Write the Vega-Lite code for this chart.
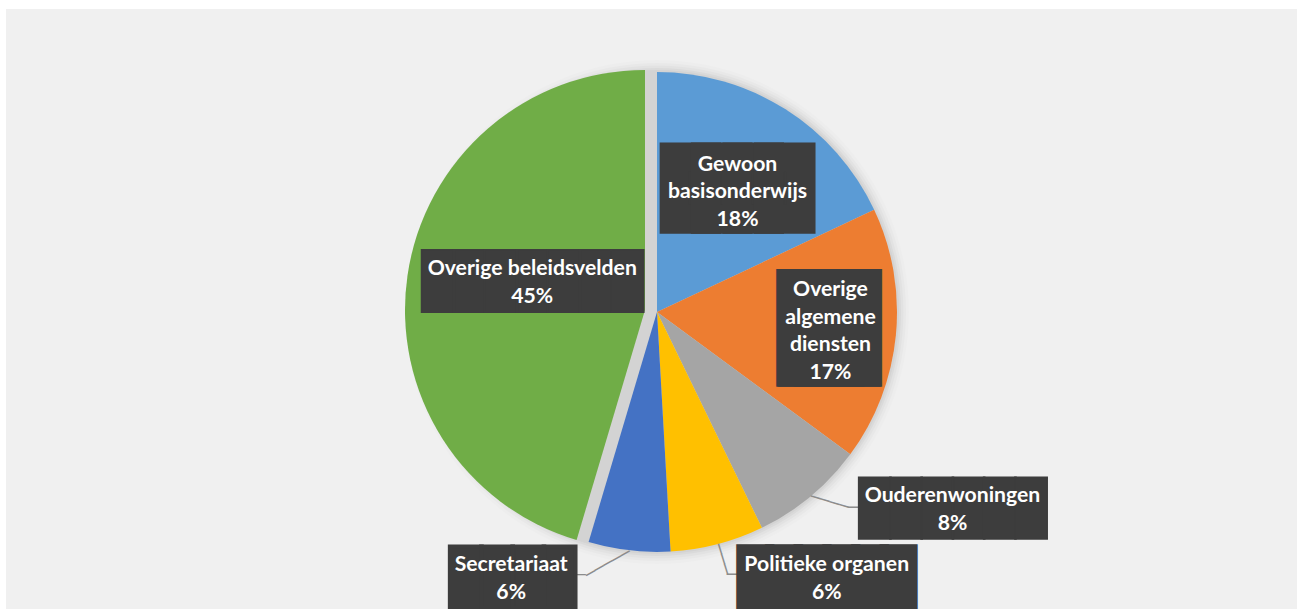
{
  "$schema": "https://vega.github.io/schema/vega-lite/v6.json",
  "width": 1291,
  "height": 600,
  "autosize": "none",
  "padding": {"left": 6, "top": 9, "right": 0, "bottom": 0},
  "background": "#ffffff",
  "view": {"fill": "#f0f0f0", "stroke": null},
  "data": {
    "values": [
      {"cat": "Gewoon basisonderwijs", "value": 18.0, "order": 1, "label": "Gewoon\nbasisonderwijs\n18%"},
      {"cat": "Overige algemene diensten", "value": 17.1, "order": 2, "label": "Overige\nalgemene\ndiensten\n17%"},
      {"cat": "Ouderenwoningen", "value": 7.7, "order": 3, "label": "Ouderenwoningen\n8%"},
      {"cat": "Politieke organen", "value": 6.3, "order": 4, "label": "Politieke organen\n6%"},
      {"cat": "Secretariaat", "value": 5.5, "order": 5, "label": "Secretariaat\n6%"},
      {"cat": "Overige beleidsvelden", "value": 45.4, "order": 6, "label": "Overige beleidsvelden\n45%"}
    ]
  },
  "layer": [
    {
      "transform": [{"aggregate": [{"op": "sum", "field": "value", "as": "total"}]}],
      "mark": {"type": "arc", "radius": 252, "fill": "#000000", "fillOpacity": 0.012, "x": {"expr": "width/2 + 5.5"}, "y": {"expr": "height/2 + 3"}},
      "encoding": {"theta": {"field": "total", "type": "quantitative", "stack": true}}
    },
    {
      "transform": [{"aggregate": [{"op": "sum", "field": "value", "as": "total"}]}],
      "mark": {"type": "arc", "radius": 249, "fill": "#000000", "fillOpacity": 0.018, "x": {"expr": "width/2 + 5.5"}, "y": {"expr": "height/2 + 3"}},
      "encoding": {"theta": {"field": "total", "type": "quantitative", "stack": true}}
    },
    {
      "transform": [{"aggregate": [{"op": "sum", "field": "value", "as": "total"}]}],
      "mark": {"type": "arc", "radius": 246.5, "fill": "#000000", "fillOpacity": 0.024, "x": {"expr": "width/2 + 5.5"}, "y": {"expr": "height/2 + 3"}},
      "encoding": {"theta": {"field": "total", "type": "quantitative", "stack": true}}
    },
    {
      "transform": [{"aggregate": [{"op": "sum", "field": "value", "as": "total"}]}],
      "mark": {"type": "arc", "radius": 244, "fill": "#000000", "fillOpacity": 0.03, "x": {"expr": "width/2 + 5.5"}, "y": {"expr": "height/2 + 3"}},
      "encoding": {"theta": {"field": "total", "type": "quantitative", "stack": true}}
    },
    {
      "transform": [{"aggregate": [{"op": "sum", "field": "value", "as": "total"}]}],
      "mark": {"type": "arc", "radius": 242, "fill": "#000000", "fillOpacity": 0.03, "x": {"expr": "width/2 + 5.5"}, "y": {"expr": "height/2 + 3"}},
      "encoding": {"theta": {"field": "total", "type": "quantitative", "stack": true}}
    },
    {
      "mark": {"type": "arc", "radius": 240, "x": {"expr": "width/2 + 5.5"}, "y": {"expr": "height/2 + 3"}},
      "encoding": {
        "theta": {"field": "value", "type": "quantitative", "stack": true},
        "order": {"field": "order", "type": "quantitative"},
        "color": {"field": "cat", "type": "nominal", "legend": null,
          "scale": {"domain": ["Gewoon basisonderwijs", "Overige algemene diensten", "Ouderenwoningen", "Politieke organen", "Secretariaat", "Overige beleidsvelden"],
                    "range": ["#5b9bd5", "#ed7d31", "#a5a5a5", "#ffc000", "#4472c4", "#70ad47"]}},
        "opacity": {"condition": {"test": "datum.cat === 'Overige beleidsvelden'", "value": 0}, "value": 1}
      }
    },
    {
      "mark": {"type": "arc", "radius": 240, "x": {"expr": "width/2 + 5.5 - 12"}, "y": {"expr": "height/2 + 3 - 2"}},
      "encoding": {
        "theta": {"field": "value", "type": "quantitative", "stack": true},
        "order": {"field": "order", "type": "quantitative"},
        "color": {"field": "cat", "type": "nominal", "legend": null},
        "opacity": {"condition": {"test": "datum.cat === 'Overige beleidsvelden'", "value": 1}, "value": 0}
      }
    },
    {
      "mark": {"type": "text", "font": "DejaVu Sans Mono", "fontSize": 16.35, "fill": "#8c8c8c", "align": "left", "baseline": "middle", "angle": 16.7, "radius": 240, "x": {"expr": "width/2 + 5.5"}, "y": {"expr": "height/2 + 3"}},
      "encoding": {
        "theta": {"field": "value", "type": "quantitative", "stack": true},
        "order": {"field": "order", "type": "quantitative"},
        "text": {"condition": {"test": "datum.cat === 'Ouderenwoningen'", "value": "────"}, "value": ""}
      }
    },
    {
      "mark": {"type": "text", "font": "DejaVu Sans Mono", "fontSize": 17.4, "fill": "#8c8c8c", "align": "left", "baseline": "middle", "angle": 72.8, "radius": 240, "x": {"expr": "width/2 + 5.5"}, "y": {"expr": "height/2 + 3"}},
      "encoding": {
        "theta": {"field": "value", "type": "quantitative", "stack": true},
        "order": {"field": "order", "type": "quantitative"},
        "text": {"condition": {"test": "datum.cat === 'Politieke organen'", "value": "───"}, "value": ""}
      }
    },
    {
      "mark": {"type": "text", "font": "DejaVu Sans Mono", "fontSize": 16.6, "fill": "#8c8c8c", "align": "left", "baseline": "middle", "angle": 150.5, "radius": 240, "x": {"expr": "width/2 + 5.5"}, "y": {"expr": "height/2 + 3"}},
      "encoding": {
        "theta": {"field": "value", "type": "quantitative", "stack": true},
        "order": {"field": "order", "type": "quantitative"},
        "text": {"condition": {"test": "datum.cat === 'Secretariaat'", "value": "─────"}, "value": ""}
      }
    },
    {
      "mark": {"type": "text", "font": "DejaVu Sans Mono", "fontSize": 16.6, "fill": "#8c8c8c", "align": "left", "baseline": "middle", "radius": 240, "dx": 37.7, "dy": 12.0, "x": {"expr": "width/2 + 5.5"}, "y": {"expr": "height/2 + 3"}},
      "encoding": {
        "theta": {"field": "value", "type": "quantitative", "stack": true},
        "order": {"field": "order", "type": "quantitative"},
        "text": {"condition": {"test": "datum.cat === 'Ouderenwoningen'", "value": "─"}, "value": ""}
      }
    },
    {
      "mark": {"type": "text", "font": "DejaVu Sans Mono", "fontSize": 16.6, "fill": "#8c8c8c", "align": "left", "baseline": "middle", "radius": 240, "dx": 9.3, "dy": 30.7, "x": {"expr": "width/2 + 5.5"}, "y": {"expr": "height/2 + 3"}},
      "encoding": {
        "theta": {"field": "value", "type": "quantitative", "stack": true},
        "order": {"field": "order", "type": "quantitative"},
        "text": {"condition": {"test": "datum.cat === 'Politieke organen'", "value": "─"}, "value": ""}
      }
    },
    {
      "mark": {"type": "text", "font": "DejaVu Sans Mono", "fontSize": 15, "fill": "#8c8c8c", "align": "left", "baseline": "middle", "radius": 240, "dx": -52.5, "dy": 24.8, "x": {"expr": "width/2 + 5.5"}, "y": {"expr": "height/2 + 3"}},
      "encoding": {
        "theta": {"field": "value", "type": "quantitative", "stack": true},
        "order": {"field": "order", "type": "quantitative"},
        "text": {"condition": {"test": "datum.cat === 'Secretariaat'", "value": "─"}, "value": ""}
      }
    },
    {
      "mark": {"type": "text", "font": "DejaVu Sans Mono", "fontSize": 52.2, "fill": "#3d3d3d", "stroke": "#3d3d3d", "strokeWidth": 29.2, "strokeJoin": "miter", "align": "center", "baseline": "middle", "radius": 146, "dx": 2.3, "dy": 1.7, "x": {"expr": "width/2 + 5.5"}, "y": {"expr": "height/2 + 3"}},
      "encoding": {
        "theta": {"field": "value", "type": "quantitative", "stack": true},
        "order": {"field": "order", "type": "quantitative"},
        "text": {"condition": {"test": "datum.cat === 'Gewoon basisonderwijs'", "value": "████"}, "value": ""}
      }
    },
    {
      "mark": {"type": "text", "font": "DejaVu Sans Mono", "fontSize": 26.6, "fill": "#3d3d3d", "stroke": "#3d3d3d", "strokeWidth": 86, "strokeJoin": "miter", "align": "center", "baseline": "middle", "radius": 172, "dx": 0.8, "dy": -0.2, "x": {"expr": "width/2 + 5.5"}, "y": {"expr": "height/2 + 3"}},
      "encoding": {
        "theta": {"field": "value", "type": "quantitative", "stack": true},
        "order": {"field": "order", "type": "quantitative"},
        "text": {"condition": {"test": "datum.cat === 'Overige algemene diensten'", "value": "▕█▏"}, "value": ""}
      }
    },
    {
      "mark": {"type": "text", "font": "DejaVu Sans Mono", "fontSize": 51.9, "fill": "#3d3d3d", "stroke": "#3d3d3d", "strokeWidth": 1.6, "strokeJoin": "miter", "align": "center", "baseline": "middle", "radius": 240, "dx": 142.2, "dy": 13.9, "x": {"expr": "width/2 + 5.5"}, "y": {"expr": "height/2 + 3"}},
      "encoding": {
        "theta": {"field": "value", "type": "quantitative", "stack": true},
        "order": {"field": "order", "type": "quantitative"},
        "text": {"condition": {"test": "datum.cat === 'Ouderenwoningen'", "value": "██████"}, "value": ""}
      }
    },
    {
      "mark": {"type": "text", "font": "DejaVu Sans Mono", "fontSize": 47.6, "fill": "#3d3d3d", "stroke": "#3d3d3d", "strokeWidth": 8.56, "strokeJoin": "miter", "align": "center", "baseline": "middle", "radius": 240, "dx": 109.6, "dy": 35.2, "x": {"expr": "width/2 + 5.5"}, "y": {"expr": "height/2 + 3"}},
      "encoding": {
        "theta": {"field": "value", "type": "quantitative", "stack": true},
        "order": {"field": "order", "type": "quantitative"},
        "text": {"condition": {"test": "datum.cat === 'Politieke organen'", "value": "██████"}, "value": ""}
      }
    },
    {
      "mark": {"type": "text", "font": "DejaVu Sans Mono", "fontSize": 51.8, "fill": "#3d3d3d", "stroke": "#3d3d3d", "strokeWidth": 3.74, "strokeJoin": "miter", "align": "center", "baseline": "middle", "radius": 240, "dx": -116.7, "dy": 28.5, "x": {"expr": "width/2 + 5.5"}, "y": {"expr": "height/2 + 3"}},
      "encoding": {
        "theta": {"field": "value", "type": "quantitative", "stack": true},
        "order": {"field": "order", "type": "quantitative"},
        "text": {"condition": {"test": "datum.cat === 'Secretariaat'", "value": "████"}, "value": ""}
      }
    },
    {
      "mark": {"type": "text", "font": "DejaVu Sans Mono", "fontSize": 52.4, "fill": "#3d3d3d", "stroke": "#3d3d3d", "strokeWidth": 1.95, "strokeJoin": "miter", "align": "center", "baseline": "middle", "radius": 129, "dx": 3.2, "dy": -10.8, "x": {"expr": "width/2 + 5.5"}, "y": {"expr": "height/2 + 3"}},
      "encoding": {
        "theta": {"field": "value", "type": "quantitative", "stack": true},
        "order": {"field": "order", "type": "quantitative"},
        "text": {"condition": {"test": "datum.cat === 'Overige beleidsvelden'", "value": "███████"}, "value": ""}
      }
    },
    {
      "mark": {"type": "text", "font": "Lato", "fontWeight": "bold", "fontSize": 21.2, "lineHeight": 27.5, "lineBreak": "\n", "fill": "#ffffff", "align": "center", "baseline": "middle", "radius": 146, "dx": 2.3, "dy": -24.2, "x": {"expr": "width/2 + 5.5"}, "y": {"expr": "height/2 + 3"}},
      "encoding": {
        "theta": {"field": "value", "type": "quantitative", "stack": true},
        "order": {"field": "order", "type": "quantitative"},
        "text": {"condition": {"test": "datum.cat === 'Gewoon basisonderwijs'", "field": "label", "type": "nominal"}, "value": ""}
      }
    },
    {
      "mark": {"type": "text", "font": "Lato", "fontWeight": "bold", "fontSize": 21.2, "lineHeight": 27.5, "lineBreak": "\n", "fill": "#ffffff", "align": "center", "baseline": "middle", "radius": 172, "dx": 2.3, "dy": -38.4, "x": {"expr": "width/2 + 5.5"}, "y": {"expr": "height/2 + 3"}},
      "encoding": {
        "theta": {"field": "value", "type": "quantitative", "stack": true},
        "order": {"field": "order", "type": "quantitative"},
        "text": {"condition": {"test": "datum.cat === 'Overige algemene diensten'", "field": "label", "type": "nominal"}, "value": ""}
      }
    },
    {
      "mark": {"type": "text", "font": "Lato", "fontWeight": "bold", "fontSize": 21.2, "lineHeight": 27.5, "lineBreak": "\n", "fill": "#ffffff", "align": "center", "baseline": "middle", "radius": 240, "dx": 141.9, "dy": 0.05, "x": {"expr": "width/2 + 5.5"}, "y": {"expr": "height/2 + 3"}},
      "encoding": {
        "theta": {"field": "value", "type": "quantitative", "stack": true},
        "order": {"field": "order", "type": "quantitative"},
        "text": {"condition": {"test": "datum.cat === 'Ouderenwoningen'", "field": "label", "type": "nominal"}, "value": ""}
      }
    },
    {
      "mark": {"type": "text", "font": "Lato", "fontWeight": "bold", "fontSize": 21.2, "lineHeight": 27.5, "lineBreak": "\n", "fill": "#ffffff", "align": "center", "baseline": "middle", "radius": 240, "dx": 109.3, "dy": 20.75, "x": {"expr": "width/2 + 5.5"}, "y": {"expr": "height/2 + 3"}},
      "encoding": {
        "theta": {"field": "value", "type": "quantitative", "stack": true},
        "order": {"field": "order", "type": "quantitative"},
        "text": {"condition": {"test": "datum.cat === 'Politieke organen'", "field": "label", "type": "nominal"}, "value": ""}
      }
    },
    {
      "mark": {"type": "text", "font": "Lato", "fontWeight": "bold", "fontSize": 21.2, "lineHeight": 27.5, "lineBreak": "\n", "fill": "#ffffff", "align": "center", "baseline": "middle", "radius": 240, "dx": -118.0, "dy": 14.65, "x": {"expr": "width/2 + 5.5"}, "y": {"expr": "height/2 + 3"}},
      "encoding": {
        "theta": {"field": "value", "type": "quantitative", "stack": true},
        "order": {"field": "order", "type": "quantitative"},
        "text": {"condition": {"test": "datum.cat === 'Secretariaat'", "field": "label", "type": "nominal"}, "value": ""}
      }
    },
    {
      "mark": {"type": "text", "font": "Lato", "fontWeight": "bold", "fontSize": 21.2, "lineHeight": 27.5, "lineBreak": "\n", "fill": "#ffffff", "align": "center", "baseline": "middle", "radius": 129, "dx": 2.9, "dy": -24.25, "x": {"expr": "width/2 + 5.5"}, "y": {"expr": "height/2 + 3"}},
      "encoding": {
        "theta": {"field": "value", "type": "quantitative", "stack": true},
        "order": {"field": "order", "type": "quantitative"},
        "text": {"condition": {"test": "datum.cat === 'Overige beleidsvelden'", "field": "label", "type": "nominal"}, "value": ""}
      }
    }
  ]
}
